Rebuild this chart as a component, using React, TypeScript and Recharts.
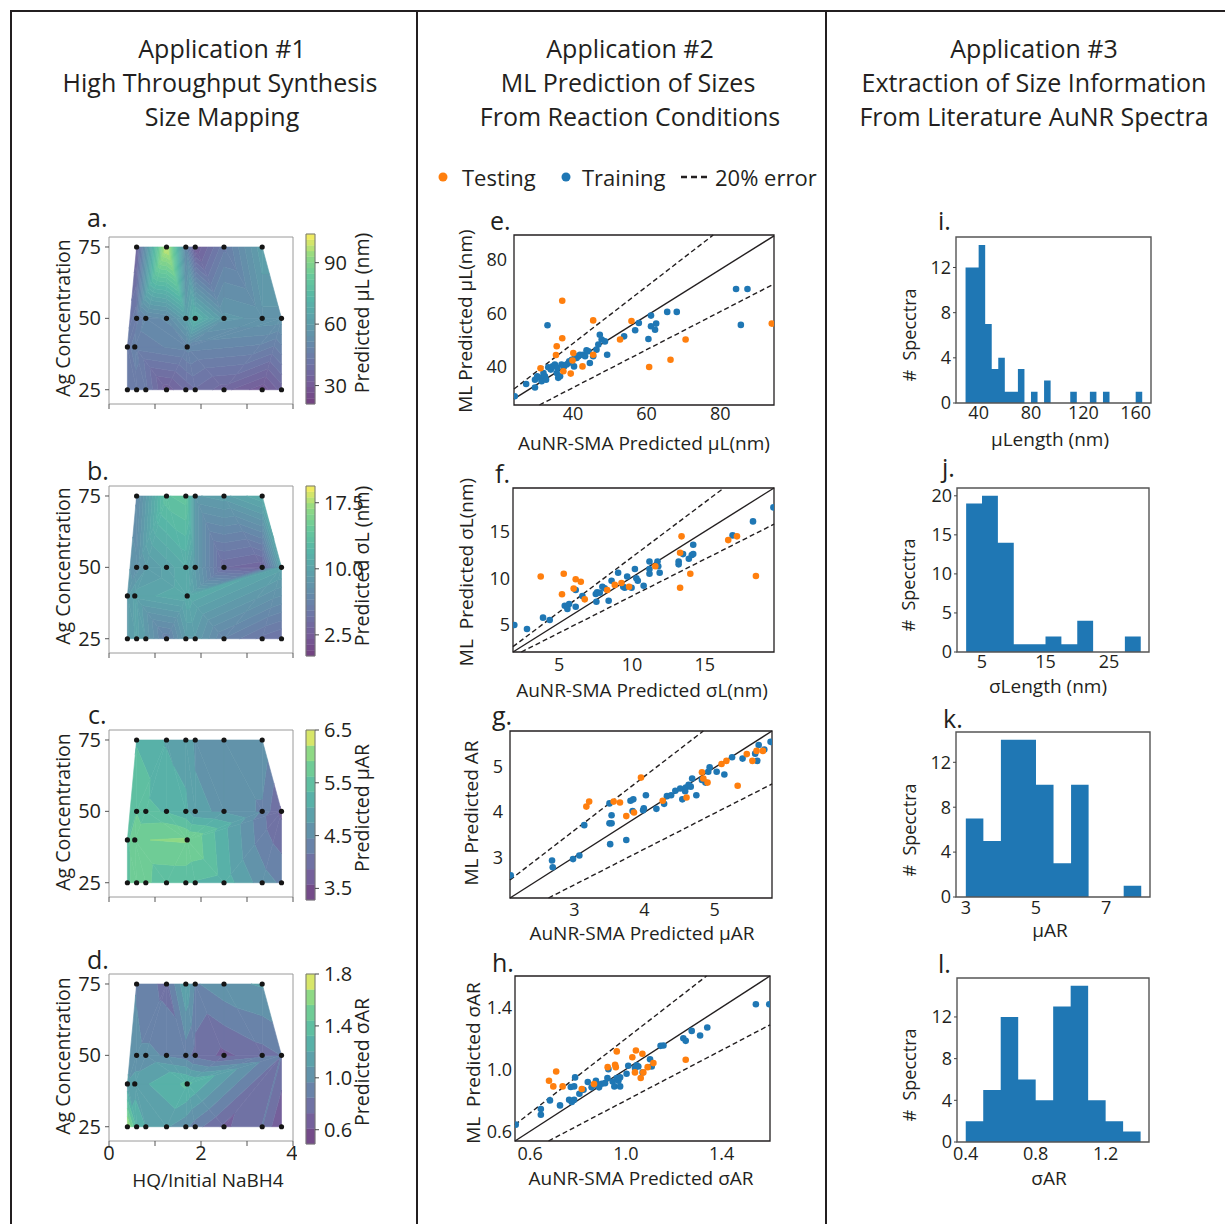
import React from 'react';
import { ComposedChart, Scatter, Area, XAxis, YAxis, ReferenceArea, ReferenceLine } from 'recharts';

const FONT = "'Open Sans', 'DejaVu Sans', sans-serif";
const INK = '#231f20';
const BLUE = '#1f77b4';
const ORANGE = '#ff7f0e';

// ---- Application #1: synthesis conditions (shared by a-d) ----
const hqRatio = [0.4, 0.6, 0.8, 1.25, 1.67, 1.875, 2.5, 3.33, 3.75, 0.4, 0.56, 1.7, 0.6, 0.8, 1.25, 1.67, 1.875, 2.5, 3.33, 3.75, 0.6, 1.25, 1.67, 1.875, 2.5, 3.33];
const agConc = [25, 25, 25, 25, 25, 25, 25, 25, 25, 40, 40, 40, 50, 50, 50, 50, 50, 50, 50, 50, 75, 75, 75, 75, 75, 75];
// predicted values at each condition
const predMuL = [45, 45, 44, 33, 38, 40, 36, 30, 36, 45, 47, 50, 45, 50, 52, 62, 72, 58, 56, 56, 35, 100, 50, 32, 45, 62];
const predSigmaL = [9, 10, 9, 6, 9, 9, 6.5, 5, 4.5, 9, 10, 11, 8, 9, 10, 11, 9, 4, 3.5, 10, 7, 13.5, 14, 9, 9.5, 11];
const predMuAR = [5.5, 5.9, 5.7, 5.4, 5.4, 5.3, 5.2, 4.6, 4.4, 5.5, 5.9, 5.95, 5.6, 5.4, 5.3, 5.1, 4.8, 4.7, 4.4, 3.8, 5.3, 5.0, 4.9, 4.7, 4.7, 4.7];
const predSigmaAR = [1.7, 1.3, 1.2, 1.1, 1.0, 0.9, 0.7, 0.85, 0.6, 1.1, 1.15, 1.35, 1.0, 1.0, 0.95, 0.9, 0.8, 0.7, 0.8, 0.85, 0.95, 0.8, 1.2, 0.95, 1.05, 1.1];
// triangulation of the conditions (indices into the arrays above)
const meshTris = [
  [0, 1, 9], [1, 10, 9], [1, 2, 10], [2, 3, 10], [3, 11, 10], [3, 4, 11], [4, 5, 11], [5, 6, 11], [6, 19, 11], [6, 7, 19], [7, 8, 19],
  [9, 10, 12], [10, 13, 12], [10, 11, 13], [11, 14, 13], [11, 15, 14], [11, 16, 15], [11, 17, 16], [11, 18, 17], [11, 19, 18],
  [9, 12, 20], [12, 21, 20], [12, 13, 21], [13, 14, 21], [14, 15, 21], [15, 22, 21], [15, 16, 22], [16, 23, 22], [16, 17, 23], [17, 24, 23], [17, 18, 24], [18, 25, 24], [18, 19, 25],
];

// ---- Application #2: parity plots ----
const muLTrain = [[24.2, 28.8], [27.3, 33.4], [29.7, 32.1], [29.7, 35.0], [30.3, 36.3], [31.1, 35.7], [31.5, 34.4], [32.0, 37.5], [32.4, 36.3], [32.7, 35.0], [33.3, 39.7], [33.1, 55.5], [34.0, 38.8], [34.5, 40.0], [35.1, 40.7], [35.6, 37.5], [35.8, 39.4], [36.0, 35.7], [36.5, 36.3], [36.9, 40.7], [37.6, 40.0], [38.3, 40.7], [38.8, 41.3], [39.0, 41.9], [39.7, 42.5], [40.3, 40.0], [40.6, 43.8], [41.0, 43.2], [41.5, 43.8], [41.9, 44.4], [42.8, 44.4], [43.3, 43.8], [43.7, 46.1], [44.2, 45.7], [44.6, 41.3], [45.5, 43.8], [46.4, 46.3], [46.9, 48.2], [47.3, 51.9], [47.8, 50.1], [48.7, 49.4], [49.3, 44.4], [53.9, 51.3], [56.9, 53.6], [57.9, 56.3], [60.5, 50.3], [61.2, 59.1], [61.2, 55.1], [62.3, 53.8], [62.6, 56.1], [65.6, 60.5], [68.2, 60.5], [84.3, 69.1], [87.4, 69.1], [85.6, 55.6]];
const muLTest = [[31.2, 39.3], [35.6, 47.6], [35.4, 44.3], [37.1, 64.7], [37.1, 50.6], [37.4, 38.2], [39.4, 37.3], [39.9, 42.2], [40.1, 45.0], [42.6, 40.0], [45.5, 57.3], [45.5, 44.4], [52.8, 50.1], [55.9, 57.1], [60.7, 39.8], [66.5, 42.5], [70.6, 50.1], [94.0, 56.1]];
const sigmaLTrain = [[1.93, 5.0], [2.8, 4.57], [3.9, 5.79], [4.36, 5.54], [5.39, 7.07], [5.55, 6.96], [5.69, 7.25], [5.57, 6.71], [6.14, 6.96], [6.14, 8.75], [6.6, 8.11], [7.52, 8.32], [7.56, 7.5], [7.61, 8.5], [7.79, 8.46], [7.97, 9.1], [8.13, 8.93], [8.4, 7.6], [8.6, 9.75], [9.05, 10.6], [9.4, 9.1], [9.5, 9.0], [9.67, 10.2], [9.97, 9.0], [10.2, 11.0], [10.3, 10.0], [10.4, 9.75], [10.8, 9.2], [11.2, 11.0], [11.2, 11.8], [11.2, 10.5], [11.75, 11.8], [11.8, 11.3], [11.9, 10.6], [13.2, 11.8], [13.2, 11.5], [13.5, 12.6], [13.9, 12.1], [14.1, 12.5], [14.2, 12.6], [14.2, 13.6], [16.9, 14.6], [18.3, 16.1], [19.7, 17.6]];
const sigmaLTest = [[3.74, 10.2], [5.32, 10.5], [5.2, 8.3], [6.0, 8.9], [6.14, 9.9], [6.49, 9.64], [6.76, 7.75], [8.3, 8.75], [8.82, 9.3], [9.28, 9.5], [9.8, 9.1], [11.6, 11.3], [13.3, 12.75], [13.4, 14.5], [13.3, 9.0], [14.0, 10.5], [16.6, 14.1], [17.2, 14.5], [18.5, 10.25]];
const muARTrain = [[2.09, 2.6], [2.68, 2.93], [2.69, 2.78], [2.98, 2.96], [3.07, 3.04], [3.14, 3.71], [3.5, 4.19], [3.51, 3.29], [3.5, 3.75], [3.53, 3.75], [3.53, 3.93], [3.74, 3.38], [3.8, 4.25], [3.84, 4.28], [3.83, 4.02], [3.98, 4.04], [3.99, 4.08], [4.02, 4.37], [4.17, 4.07], [4.28, 4.18], [4.32, 4.35], [4.38, 4.37], [4.44, 4.47], [4.51, 4.52], [4.54, 4.28], [4.58, 4.46], [4.59, 4.54], [4.63, 4.6], [4.66, 4.56], [4.68, 4.74], [4.74, 4.37], [4.82, 4.71], [4.87, 4.65], [4.91, 4.89], [4.93, 4.99], [5.03, 4.89], [5.14, 4.83], [5.25, 5.21], [5.4, 5.18], [5.58, 5.29], [5.63, 5.48], [5.61, 5.13], [5.71, 5.38], [5.8, 5.55]];
const muARTest = [[3.17, 4.12], [3.21, 4.23], [3.56, 4.23], [3.65, 4.21], [3.74, 3.91], [3.85, 3.99], [3.95, 4.76], [4.26, 4.25], [4.6, 4.32], [4.82, 4.88], [4.84, 4.74], [4.9, 4.65], [5.1, 5.06], [5.17, 5.13], [5.33, 4.58], [5.46, 5.28], [5.54, 5.13], [5.6, 5.35], [5.69, 5.35]];
const sigmaARTrain = [[0.54, 0.647], [0.645, 0.748], [0.645, 0.711], [0.683, 0.803], [0.725, 0.771], [0.763, 0.807], [0.77, 0.889], [0.784, 0.893], [0.788, 0.951], [0.774, 0.793], [0.784, 0.807], [0.806, 0.846], [0.823, 0.872], [0.841, 0.921], [0.857, 0.887], [0.875, 0.929], [0.878, 0.904], [0.888, 0.887], [0.899, 0.91], [0.913, 0.914], [0.923, 0.947], [0.927, 1.004], [0.945, 0.925], [0.952, 0.893], [0.962, 0.947], [0.969, 0.929], [0.976, 0.893], [0.976, 0.951], [1.003, 0.974], [1.01, 1.026], [1.038, 1.011], [1.045, 1.028], [1.052, 1.021], [1.07, 0.983], [1.101, 1.068], [1.108, 1.021], [1.145, 1.154], [1.157, 1.156], [1.24, 1.203], [1.25, 1.186], [1.275, 1.25], [1.31, 1.22], [1.34, 1.272], [1.543, 1.421], [1.599, 1.421]];
const sigmaARTest = [[0.679, 0.929], [0.697, 0.893], [0.709, 0.989], [0.736, 0.893], [0.816, 0.876], [0.867, 0.908], [0.924, 1.017], [0.955, 1.032], [0.958, 1.017], [0.962, 1.118], [1.027, 1.081], [1.038, 0.983], [1.042, 1.124], [1.062, 0.947], [1.069, 1.103], [1.073, 0.983], [1.091, 1.017], [1.115, 1.043], [1.25, 1.064]];
// parity line and 20% error bands (end points)
const muLGuides = [[[24, 27.8], [94.6, 89.1]], [[24, 31.5], [78.1, 89.4]], [[30.9, 25.5], [94.6, 71.0]]];
const sigmaLGuides = [[[1.84, 2.11], [19.74, 19.68]], [[1.84, 2.68], [16.3, 19.68]], [[2.41, 2.11], [19.74, 15.8]]];
const muARGuides = [[[2.08, 2.1], [5.82, 5.79]], [[2.08, 2.5], [4.84, 5.79]], [[2.63, 2.1], [5.82, 4.62]]];
const sigmaARGuides = [[[0.537, 0.542], [1.602, 1.603]], [[0.537, 0.647], [1.337, 1.603]], [[0.677, 0.542], [1.602, 1.289]]];

// ---- Application #3: literature spectra histograms ----
const muLengthEdges = [30, 35, 40, 45, 50, 55, 60, 65, 70, 75, 80, 85, 90, 95, 100, 105, 110, 115, 120, 125, 130, 135, 140, 145, 150, 155, 160, 165];
const muLengthCounts = [12, 12, 14, 7, 3, 4, 1, 1, 3, 0, 1, 0, 2, 0, 0, 0, 1, 0, 0, 1, 0, 1, 0, 0, 0, 0, 1];
const sigmaLengthEdges = [2.5, 5, 7.5, 10, 12.5, 15, 17.5, 20, 22.5, 25, 27.5, 30];
const sigmaLengthCounts = [19, 20, 14, 1, 1, 2, 1, 4, 0, 0, 2];
const muAREdges = [3, 3.5, 4, 4.5, 5, 5.5, 6, 6.5, 7, 7.5, 8];
const muARCounts = [7, 5, 14, 14, 10, 3, 10, 0, 0, 1];
const sigmaAREdges = [0.4, 0.5, 0.6, 0.7, 0.8, 0.9, 1.0, 1.1, 1.2, 1.3, 1.4];
const sigmaARCounts = [2, 5, 12, 6, 4, 13, 15, 4, 2, 1];

// viridis, washed with alpha 0.75 on white
const VIRIDIS = ['#440154', '#482878', '#3e4989', '#31688e', '#26828e', '#1f9e89', '#35b779', '#6ece58', '#fde725'];
function hex(c: string) {
  return [1, 3, 5].map((i) => parseInt(c.slice(i, i + 2), 16));
}
function washed(t: number) {
  const s = Math.max(0, Math.min(1, t)) * (VIRIDIS.length - 1);
  const i = Math.min(Math.floor(s), VIRIDIS.length - 2);
  const f = s - i;
  const a = hex(VIRIDIS[i]);
  const b = hex(VIRIDIS[i + 1]);
  const rgb = a.map((v, k) => Math.round((v + (b[k] - v) * f) * 0.75 + 255 * 0.25));
  return `rgb(${rgb[0]},${rgb[1]},${rgb[2]})`;
}
function spanLevels(lo: number, hi: number, n: number) {
  const out: number[] = [];
  for (let k = 0; k <= n; k++) out.push(lo + ((hi - lo) * k) / n);
  return out;
}

type PV = { x: number; y: number; v: number };
// keep the part of a polygon where f(v) >= 0
function clipPoly(poly: PV[], f: (v: number) => number) {
  const out: PV[] = [];
  for (let i = 0; i < poly.length; i++) {
    const a = poly[i];
    const b = poly[(i + 1) % poly.length];
    const fa = f(a.v);
    const fb = f(b.v);
    if (fa >= 0) out.push(a);
    if (fa >= 0 !== fb >= 0) {
      const t = fa / (fa - fb);
      out.push({ x: a.x + t * (b.x - a.x), y: a.y + t * (b.y - a.y), v: a.v + t * (b.v - a.v) });
    }
  }
  return out;
}

function Txt({ x, y, size, rot, children }: any) {
  return (
    <div
      style={{
        position: 'absolute', left: x, top: y, fontSize: size, lineHeight: 1, whiteSpace: 'pre',
        transform: `translate(-50%, -50%)${rot ? ` rotate(${rot}deg)` : ''}`,
      }}
    >
      {children}
    </div>
  );
}

// panel letter, placed by its baseline
function Letter({ x, base, children }: any) {
  return (
    <div style={{ position: 'absolute', left: x, top: base - 0.788 * 25, fontSize: 25, lineHeight: 0.8 }}>{children}</div>
  );
}

const noMark = () => <g />;
const dotOf = (color: string, r: number) => (p: any) => <circle cx={p.cx} cy={p.cy} r={r} fill={color} />;

function ContourPanel({ top, vals, levels, showX }: any) {
  const frame = { x: 109, y: top, w: 184, h: 167 };
  const pl = 50, pt = 4, pr = 4, pb = 30;
  const pts = hqRatio.map((x, i) => ({ x, y: agConc[i] }));
  const nb = levels.length - 1;
  const drawMesh = (lp: any) => {
    const pp = lp.points || [];
    if (pp.length < vals.length) return <g />;
    const out: React.ReactNode[] = [];
    meshTris.forEach((tri, ti) => {
      const base = tri.map((i) => ({ x: pp[i].x, y: pp[i].y, v: vals[i] }));
      for (let k = 0; k < nb; k++) {
        let poly = k === 0 ? base : clipPoly(base, (v) => v - levels[k]);
        if (k < nb - 1 && poly.length >= 3) poly = clipPoly(poly, (v) => levels[k + 1] - v);
        if (poly.length < 3) continue;
        const c = washed((k + 0.5) / nb);
        out.push(
          <path key={`${ti}-${k}`} d={'M' + poly.map((p) => `${p.x},${p.y}`).join('L') + 'Z'} fill={c} stroke={c} strokeWidth={0.6} />
        );
      }
    });
    return <g>{out}</g>;
  };
  return (
    <div style={{ position: 'absolute', left: frame.x - pl, top: frame.y - pt }}>
      <ComposedChart width={frame.w + pl + pr} height={frame.h + pt + pb} margin={{ top: pt, right: pr, bottom: 0, left: 0 }}>
        <XAxis type="number" dataKey="x" domain={[0, 4]} allowDataOverflow ticks={[0, 1, 2, 3, 4]}
          tickFormatter={(v: number) => (showX && v % 2 === 0 ? String(v) : '')}
          height={pb} axisLine={false} tickSize={5} tickMargin={0} tickLine={{ stroke: '#555' }} tick={{ fontSize: 20, fill: INK }} />
        <YAxis type="number" dataKey="y" domain={[20, 78.5]} allowDataOverflow ticks={[25, 50, 75]}
          width={pl} axisLine={false} tickSize={4} tickMargin={4} tickLine={{ stroke: '#555' }} tick={{ fontSize: 20, fill: INK }} />
        <Scatter data={pts} shape={noMark} line={drawMesh} lineType="joint" isAnimationActive={false} />
        <Scatter data={pts} shape={dotOf('#151515', 2.6)} isAnimationActive={false} />
        <ReferenceArea x1={0} x2={4} y1={20} y2={78.5} fill="none" fillOpacity={0} stroke="#9a9a9a" strokeWidth={1} ifOverflow="visible" />
      </ComposedChart>
    </div>
  );
}

function ColorBar({ top, levels, ticks, fmt }: any) {
  const frame = { x: 306, y: top, w: 9, h: 170 };
  const pl = 5, pt = 14, pb = 14, yw = 60;
  const nb = levels.length - 1;
  const lo = levels[0];
  const hi = levels[nb];
  return (
    <div style={{ position: 'absolute', left: frame.x - pl, top: frame.y - pt }}>
      <ComposedChart width={pl + frame.w + yw} height={pt + frame.h + pb} margin={{ top: pt, right: 0, bottom: pb, left: pl }} data={[]}>
        <XAxis type="number" dataKey="x" domain={[0, 1]} allowDataOverflow hide />
        <YAxis type="number" orientation="right" domain={[lo, hi]} allowDataOverflow ticks={ticks} tickFormatter={fmt}
          width={yw} axisLine={false} tickSize={4} tickMargin={5} tickLine={{ stroke: '#444' }} tick={{ fontSize: 20, fill: INK }} />
        {levels.slice(0, nb).map((l: number, k: number) => {
          const c = washed((k + 0.5) / nb);
          return <ReferenceArea key={k} x1={0} x2={1} y1={l} y2={levels[k + 1]} fill={c} fillOpacity={1} stroke={c} strokeWidth={0.4} ifOverflow="visible" />;
        })}
        <ReferenceArea x1={0} x2={1} y1={lo} y2={hi} fill="none" fillOpacity={0} stroke="#777" strokeWidth={1} ifOverflow="visible" />
      </ComposedChart>
    </div>
  );
}

function ParityPanel({ frame, xDomain, yDomain, ticks, fmt, train, test, guides, xGap, yGap }: any) {
  const pl = 60, pt = 4, pr = 4, pb = 30;
  const tr = train.map((p: number[]) => ({ x: p[0], y: p[1] }));
  const te = test.map((p: number[]) => ({ x: p[0], y: p[1] }));
  return (
    <div style={{ position: 'absolute', left: frame.x - pl, top: frame.y - pt }}>
      <ComposedChart width={frame.w + pl + pr} height={frame.h + pt + pb} margin={{ top: pt, right: pr, bottom: 0, left: 0 }}>
        <XAxis type="number" dataKey="x" domain={xDomain} allowDataOverflow ticks={ticks} tickFormatter={fmt}
          height={pb} axisLine={false} tickLine={false} tickSize={0} tickMargin={xGap} tick={{ fontSize: 18, fill: INK }} />
        <YAxis type="number" dataKey="y" domain={yDomain} allowDataOverflow ticks={ticks} tickFormatter={fmt}
          width={pl} axisLine={false} tickLine={false} tickSize={0} tickMargin={yGap} tick={{ fontSize: 18, fill: INK }} />
        {guides.map((g: number[][], i: number) => (
          <ReferenceLine key={i} segment={[{ x: g[0][0], y: g[0][1] }, { x: g[1][0], y: g[1][1] }]}
            stroke={INK} strokeWidth={1.4} strokeDasharray={i === 0 ? undefined : '5 3'} ifOverflow="visible" />
        ))}
        <Scatter data={tr} shape={dotOf(BLUE, 3.3)} isAnimationActive={false} />
        <Scatter data={te} shape={dotOf(ORANGE, 3.3)} isAnimationActive={false} />
        <ReferenceArea x1={xDomain[0]} x2={xDomain[1]} y1={yDomain[0]} y2={yDomain[1]} fill="none" fillOpacity={0} stroke={INK} strokeWidth={1.3} ifOverflow="visible" />
      </ComposedChart>
    </div>
  );
}

function HistPanel({ frame, edges, counts, xDomain, yMax, xTicks, yTicks, fmt, xGap }: any) {
  const pl = 50, pt = 4, pr = 4, pb = 28;
  const data = edges.map((e: number, i: number) => ({ x: e, n: counts[Math.min(i, counts.length - 1)] }));
  return (
    <div style={{ position: 'absolute', left: frame.x - pl, top: frame.y - pt }}>
      <ComposedChart width={frame.w + pl + pr} height={frame.h + pt + pb} margin={{ top: pt, right: pr, bottom: 0, left: 0 }} data={data}>
        <XAxis type="number" dataKey="x" domain={xDomain} allowDataOverflow ticks={xTicks} tickFormatter={fmt}
          height={pb} axisLine={false} tickLine={false} tickSize={0} tickMargin={xGap} tick={{ fontSize: 18, fill: INK }} />
        <YAxis type="number" domain={[0, yMax]} allowDataOverflow ticks={yTicks}
          width={pl} axisLine={false} tickSize={3} tickMargin={2} tickLine={{ stroke: '#444' }} tick={{ fontSize: 18, fill: INK }} />
        <Area type="stepAfter" dataKey="n" fill={BLUE} fillOpacity={1} stroke="none" dot={false} activeDot={false} isAnimationActive={false} />
        <ReferenceArea x1={xDomain[0]} x2={xDomain[1]} y1={0} y2={yMax} fill="none" fillOpacity={0} stroke="#555" strokeWidth={1.4} ifOverflow="visible" />
      </ComposedChart>
    </div>
  );
}

const one = (v: number) => v.toFixed(1);

export default function App() {
  return (
    <div style={{ position: 'absolute', left: 0, top: 0, width: 1225, height: 1224, background: '#fff', fontFamily: FONT, color: INK, overflow: 'hidden' }}>
      <div style={{ position: 'absolute', left: 10, top: 10, width: 1215, height: 2, background: INK }} />
      <div style={{ position: 'absolute', left: 10, top: 10, width: 2, height: 1214, background: INK }} />
      <div style={{ position: 'absolute', left: 416, top: 10, width: 2, height: 1214, background: INK }} />
      <div style={{ position: 'absolute', left: 825, top: 10, width: 2, height: 1214, background: INK }} />

      <Txt x={222} y={48} size={25}>Application #1</Txt>
      <Txt x={220} y={82} size={25}>High Throughput Synthesis</Txt>
      <Txt x={222} y={116} size={25}>Size Mapping</Txt>
      <Txt x={630} y={48} size={25}>Application #2</Txt>
      <Txt x={628} y={82} size={25}>ML Prediction of Sizes</Txt>
      <Txt x={630} y={116} size={25}>From Reaction Conditions</Txt>
      <Txt x={1034} y={48} size={25}>Application #3</Txt>
      <Txt x={1034} y={82} size={25}>Extraction of Size Information</Txt>
      <Txt x={1034} y={116} size={25}>From Literature AuNR Spectra</Txt>

      {/* legend for the parity plots */}
      <svg style={{ position: 'absolute', left: 430, top: 165 }} width={290} height={24}>
        <circle cx={13} cy={12} r={4.5} fill={ORANGE} />
        <circle cx={136} cy={12} r={4.5} fill={BLUE} />
        <line x1={251} y1={12} x2={277} y2={12} stroke={INK} strokeWidth={2.6} strokeDasharray="6 4" />
      </svg>
      <div style={{ position: 'absolute', left: 462, top: 177, transform: 'translateY(-50%)', fontSize: 22, lineHeight: 1 }}>Testing</div>
      <div style={{ position: 'absolute', left: 582, top: 177, transform: 'translateY(-50%)', fontSize: 22, lineHeight: 1 }}>Training</div>
      <div style={{ position: 'absolute', left: 715, top: 177, transform: 'translateY(-50%)', fontSize: 22, lineHeight: 1 }}>20% error</div>

      {/* column 1 */}
      <Letter x={87} base={227}>a.</Letter>
      <Letter x={87} base={480}>b.</Letter>
      <Letter x={88} base={724}>c.</Letter>
      <Letter x={87} base={969}>d.</Letter>
      <ContourPanel top={237} vals={predMuL} levels={spanLevels(21, 104, 30)} />
      <ContourPanel top={486} vals={predSigmaL} levels={spanLevels(0.1, 19.4, 30)} />
      <ContourPanel top={730} vals={predMuAR} levels={spanLevels(3.28, 6.5, 11)} />
      <ContourPanel top={974} vals={predSigmaAR} levels={spanLevels(0.49, 1.8, 11)} showX />
      <ColorBar top={234} levels={spanLevels(21, 104, 30)} ticks={[30, 60, 90]} />
      <ColorBar top={486} levels={spanLevels(0.1, 19.4, 30)} ticks={[2.5, 10, 17.5]} fmt={one} />
      <ColorBar top={730} levels={spanLevels(3.28, 6.5, 11)} ticks={[3.5, 4.5, 5.5, 6.5]} fmt={one} />
      <ColorBar top={974} levels={spanLevels(0.49, 1.8, 11)} ticks={[0.6, 1.0, 1.4, 1.8]} fmt={one} />
      <Txt x={63} y={318} size={19.5} rot={-90}>Ag Concentration</Txt>
      <Txt x={63} y={566} size={19.5} rot={-90}>Ag Concentration</Txt>
      <Txt x={63} y={812} size={19.5} rot={-90}>Ag Concentration</Txt>
      <Txt x={63} y={1056} size={19.5} rot={-90}>Ag Concentration</Txt>
      <Txt x={362} y={313} size={19.5} rot={-90}>Predicted μL (nm)</Txt>
      <Txt x={362} y={566} size={19.5} rot={-90}>Predicted σL (nm)</Txt>
      <Txt x={362} y={808} size={19.5} rot={-90}>Predicted μAR</Txt>
      <Txt x={362} y={1062} size={19.5} rot={-90}>Predicted σAR</Txt>
      <Txt x={208} y={1180} size={19}>HQ/Initial NaBH4</Txt>

      {/* column 2 */}
      <Letter x={490} base={230}>e.</Letter>
      <Letter x={495} base={483}>f.</Letter>
      <Letter x={492} base={725}>g.</Letter>
      <Letter x={492} base={972}>h.</Letter>
      <ParityPanel frame={{ x: 514, y: 235, w: 260, h: 170 }} xDomain={[24, 94.6]} yDomain={[25.5, 89.4]} ticks={[40, 60, 80]}
        train={muLTrain} test={muLTest} guides={muLGuides} xGap={2} yGap={7} />
      <ParityPanel frame={{ x: 513, y: 488, w: 261, h: 164 }} xDomain={[1.84, 19.74]} yDomain={[2.11, 19.68]} ticks={[5, 10, 15]}
        train={sigmaLTrain} test={sigmaLTest} guides={sigmaLGuides} xGap={6} yGap={3} />
      <ParityPanel frame={{ x: 510, y: 731, w: 262, h: 167 }} xDomain={[2.08, 5.82]} yDomain={[2.1, 5.79]} ticks={[3, 4, 5]}
        train={muARTrain} test={muARTest} guides={muARGuides} xGap={5} yGap={7} />
      <ParityPanel frame={{ x: 515, y: 976, w: 255, h: 165 }} xDomain={[0.537, 1.602]} yDomain={[0.542, 1.603]} ticks={[0.6, 1.0, 1.4]} fmt={one}
        train={sigmaARTrain} test={sigmaARTest} guides={sigmaARGuides} xGap={6} yGap={3} />
      <Txt x={465} y={321} size={19} rot={-90}>ML Predicted μL(nm)</Txt>
      <Txt x={466} y={572} size={19} rot={-90}>{'ML  Predicted σL(nm)'}</Txt>
      <Txt x={471} y={813} size={19} rot={-90}>ML Predicted AR</Txt>
      <Txt x={473} y={1063} size={19} rot={-90}>{'ML  Predicted σAR'}</Txt>
      <Txt x={644} y={443} size={19}>AuNR-SMA Predicted μL(nm)</Txt>
      <Txt x={642} y={690} size={19}>AuNR-SMA Predicted σL(nm)</Txt>
      <Txt x={642} y={933} size={19}>AuNR-SMA Predicted μAR</Txt>
      <Txt x={641} y={1178} size={19}>AuNR-SMA Predicted σAR</Txt>

      {/* column 3 */}
      <Letter x={938} base={230}>i.</Letter>
      <Letter x={942} base={477}>j.</Letter>
      <Letter x={943} base={728}>k.</Letter>
      <Letter x={938} base={973}>l.</Letter>
      <HistPanel frame={{ x: 956, y: 237, w: 195, h: 166 }} edges={muLengthEdges} counts={muLengthCounts}
        xDomain={[22.7, 171.7]} yMax={14.7} xTicks={[40, 80, 120, 160]} yTicks={[0, 4, 8, 12]} xGap={3} />
      <HistPanel frame={{ x: 957, y: 488, w: 192, h: 164 }} edges={sigmaLengthEdges} counts={sigmaLengthCounts}
        xDomain={[1.06, 31.3]} yMax={21} xTicks={[5, 15, 25]} yTicks={[0, 5, 10, 15, 20]} xGap={3} />
      <HistPanel frame={{ x: 956, y: 732, w: 194, h: 165 }} edges={muAREdges} counts={muARCounts}
        xDomain={[2.72, 8.25]} yMax={14.7} xTicks={[3, 5, 7]} yTicks={[0, 4, 8, 12]} xGap={4} />
      <HistPanel frame={{ x: 957, y: 978, w: 192, h: 164 }} edges={sigmaAREdges} counts={sigmaARCounts}
        xDomain={[0.35, 1.448]} yMax={15.74} xTicks={[0.4, 0.8, 1.2]} yTicks={[0, 4, 8, 12]} fmt={one} xGap={5} />
      <Txt x={909} y={335} size={18} rot={-90}>{'#  Specctra'}</Txt>
      <Txt x={908} y={585} size={18} rot={-90}>{'#  Specctra'}</Txt>
      <Txt x={909} y={830} size={18} rot={-90}>{'#  Specctra'}</Txt>
      <Txt x={909} y={1075} size={18} rot={-90}>{'#  Specctra'}</Txt>
      <Txt x={1050} y={439} size={19}>μLength (nm)</Txt>
      <Txt x={1048} y={686} size={19}>σLength (nm)</Txt>
      <Txt x={1050} y={930} size={19}>μAR</Txt>
      <Txt x={1049} y={1178} size={19}>σAR</Txt>
    </div>
  );
}
